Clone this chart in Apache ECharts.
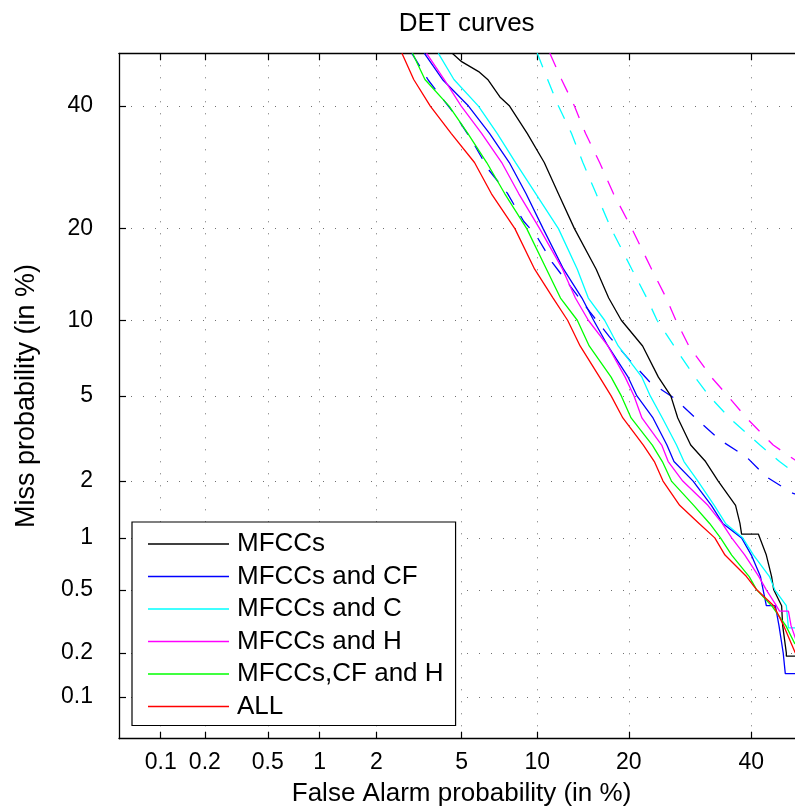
<!DOCTYPE html>
<html><head><meta charset="utf-8">
<script src="https://cdn.jsdelivr.net/npm/echarts@6/dist/echarts.min.js"></script>
<style>html,body{margin:0;padding:0;overflow:hidden;background:#fff}#c{width:806px;height:808px}</style>
</head><body><div id="c"></div>
<script>
// ---- axis ticks (percent) ----
const tickValues = [0.1, 0.2, 0.5, 1, 2, 5, 10, 20, 40];
const tickLabels = ['0.1', '0.2', '0.5', '1', '2', '5', '10', '20', '40'];
const axisMinPct = 0.05;
const axisMaxPct = 50;

// ---- legend names ----
const seriesNames = ['MFCCs', 'MFCCs and CF', 'MFCCs and C', 'MFCCs and H', 'MFCCs,CF and H', 'ALL'];

// ---- DET curves: [false alarm %, miss %] ----
const mfccs = [[4.55,50],[5.0,48.4],[5.9,46.5],[6.43,45],[7.2,41.7],[7.86,40],[9.19,35],[10.6,30],[11.9,25],[13.5,20],[15.9,15],[17.4,12],[19.0,10],[21.9,8],[24.2,6],[26.1,5],[27.2,4],[29.3,3],[31.8,2.5],[34.0,2],[37.1,1.5],[37.9,1.2],[38.2,1.05],[41.3,1.05],[42.8,0.8],[43.8,0.6],[44.2,0.5],[45.7,0.4],[45.9,0.3],[46.6,0.2],[46.6,0.19],[50,0.19]];
const mfccsCF = [[3.41,50],[4.12,45],[5.35,40],[6.55,35],[7.84,30],[9.09,25],[10.5,20],[12.4,15],[14.3,12],[15.6,10],[17.3,8],[19.9,6],[21.1,5],[23.4,4],[25.5,3],[26.6,2.5],[29.7,2],[32.8,1.5],[34.8,1.2],[38.2,1],[40.0,0.8],[41.7,0.6],[42.2,0.5],[42.8,0.4],[44.5,0.4],[45.2,0.3],[46.0,0.2],[46.4,0.145],[50,0.145]];
const mfccsC = [[3.95,50],[4.63,45],[5.89,40],[7.03,35],[8.29,30],[9.88,25],[11.9,20],[13.8,15],[15.0,12],[16.9,10],[18.6,8],[21.8,6],[23.0,5],[24.8,4],[27.0,3],[28.2,2.5],[30.5,2],[33.3,1.5],[35.3,1.2],[38.4,1],[40.4,0.8],[43.4,0.6],[44.4,0.5],[46.6,0.4],[47.0,0.29],[50,0.29]];
const mfccsH = [[3.49,50],[4.19,45],[4.98,40],[6.08,35],[7.32,30],[8.53,25],[10.2,20],[12.3,15],[13.6,12],[15.0,10],[17.3,8],[19.5,6],[20.7,5],[21.8,4],[24.7,3],[25.7,2.5],[28.0,2],[32.2,1.5],[34.7,1.2],[36.4,1],[38.8,0.8],[41.4,0.6],[42.8,0.5],[44.7,0.4],[45.3,0.37],[47.0,0.37],[47.5,0.3],[48.5,0.24],[50,0.22]];
const mfccsCFH = [[3.0,50],[3.43,45],[4.41,40],[5.32,35],[6.37,30],[7.53,25],[9.14,20],[10.8,15],[12.1,12],[13.8,10],[15.1,8],[17.7,6],[19.0,5],[20.3,4],[23.3,3],[24.8,2.5],[26.2,2],[29.8,1.5],[32.5,1.2],[34.4,1],[36.4,0.8],[39.6,0.6],[41.0,0.5],[43.8,0.4],[46.5,0.3],[48.2,0.23],[50,0.21]];
const allFeat = [[2.67,50],[3.04,45],[3.63,40],[4.51,35],[5.67,30],[6.66,25],[8.24,20],[9.78,15],[11.4,12],[12.8,10],[14.1,8],[16.3,6],[17.7,5],[19.2,4],[22.0,3],[23.6,2.5],[24.9,2],[27.5,1.5],[30.7,1.2],[33.4,1],[35.2,0.8],[39.1,0.6],[41.0,0.5],[44.2,0.4],[46.1,0.3],[48.3,0.2],[50,0.19]];
// dashed curves (not in legend)
const dashBlue = [[2.98,50],[3.55,44.9],[4.72,38.2],[5.56,33.6],[6.49,28.8],[7.70,25.1],[8.90,21.0],[9.93,19.05],[11.3,15.8],[15.2,10.7],[17.5,8.67],[20.1,7.04],[22.9,5.74],[26.7,4.88],[30.5,3.91],[34.3,3.17],[39.1,2.63],[42.8,2.10],[47.9,1.73],[49.5,1.68]];
const dashCyan = [[10.0,50],[10.9,45],[11.9,40],[13.2,35],[14.4,30],[15.9,25],[17.7,20],[20.4,15],[22.5,12],[24.0,10],[26.6,8],[30.0,6],[32.4,5],[36.0,4],[41.6,3],[45.3,2.5],[48.2,2.2],[49.5,2.15]];
const dashMagenta = [[11.1,50],[12.2,45],[13.5,40],[14.7,35],[16.3,30],[18.0,25],[20.4,20],[23.2,15],[25.4,12],[26.9,10],[29.0,8],[32.8,6],[35.7,5],[39.1,4],[44.1,3],[48.2,2.55],[49.5,2.5]];

// inverse normal CDF (DET axes are normal-deviate scaled)
function probit(p){
  const a=[-3.969683028665376e+01,2.209460984245205e+02,-2.759285104469687e+02,1.383577518672690e+02,-3.066479806614716e+01,2.506628277459239e+00];
  const b=[-5.447609879822406e+01,1.615858368580409e+02,-1.556989798598866e+02,6.680131188771972e+01,-1.328068155288572e+01];
  const c=[-7.784894002430293e-03,-3.223964580411365e-01,-2.400758277161838e+00,-2.549732539343734e+00,4.374664141464968e+00,2.938163982698783e+00];
  const d=[7.784695709041462e-03,3.224671290700398e-01,2.445134137142996e+00,3.754408661907416e+00];
  const pl=0.02425, ph=1-pl; let q, r;
  if(p<pl){q=Math.sqrt(-2*Math.log(p));return (((((c[0]*q+c[1])*q+c[2])*q+c[3])*q+c[4])*q+c[5])/((((d[0]*q+d[1])*q+d[2])*q+d[3])*q+1);}
  if(p<=ph){q=p-0.5;r=q*q;return (((((a[0]*r+a[1])*r+a[2])*r+a[3])*r+a[4])*r+a[5])*q/(((((b[0]*r+b[1])*r+b[2])*r+b[3])*r+b[4])*r+1);}
  q=Math.sqrt(-2*Math.log(1-p));return -(((((c[0]*q+c[1])*q+c[2])*q+c[3])*q+c[4])*q+c[5])/((((d[0]*q+d[1])*q+d[2])*q+d[3])*q+1);
}
const tr = arr => arr.map(([fa, miss]) => [probit(fa/100), probit(miss/100)]);
const tickPos = tickValues.map(v => probit(v/100));
const fmt = v => { for (let i=0;i<tickPos.length;i++) if (Math.abs(tickPos[i]-v)<1e-6) return tickLabels[i]; return ''; };
const aMin = probit(axisMinPct/100), aMax = probit(axisMaxPct/100);

const FONT = 'Liberation Sans';
const gridLine = { show: true, lineStyle: { color: '#707070', width: 1, type: [1, 11] } };

function axisBase(extra){
  return Object.assign({
    type: 'value', min: aMin, max: aMax,
    axisLine: { show: true, onZero: false, lineStyle: { color: '#000', width: 1.3 } },
    axisTick: { show: true, inside: true, length: 7, customValues: tickPos, lineStyle: { color: '#000', width: 1.2 } },
    axisLabel: { show: true, customValues: tickPos, formatter: fmt, color: '#000', fontFamily: FONT, fontSize: 23 },
    splitLine: gridLine
  }, extra);
}

const lineSeries = (name, data, color, dashed) => ({
  name, type: 'line', data: tr(data), showSymbol: false, symbol: 'none',
  lineStyle: { color, width: 1.3, type: dashed ? [15, 13] : 'solid' },
  itemStyle: { color }, animation: false, clip: true, silent: true, z: dashed ? 2 : 3
});

const chart = echarts.init(document.getElementById('c'), null, { renderer: 'canvas' });
chart.setOption({
  animation: false,
  backgroundColor: '#fff',
  title: { text: 'DET curves', left: 461.7, top: 6, textAlign: 'center',
    textStyle: { fontFamily: FONT, fontSize: 26, fontWeight: 'normal', color: '#000' } },
  grid: { left: 119, top: 53.3, width: 685.1, height: 685.4, containLabel: false, outerBoundsMode: 'none' },
  xAxis: [
    axisBase({ position: 'bottom', name: 'False Alarm probability (in %)', nameLocation: 'middle', nameGap: 42,
      nameTextStyle: { fontFamily: FONT, fontSize: 26, color: '#000' },
      axisLabel: { show: true, customValues: tickPos, formatter: fmt, color: '#000', fontFamily: FONT, fontSize: 23, margin: 12 } }),
    axisBase({ position: 'top', axisLabel: { show: false }, splitLine: { show: false } })
  ],
  yAxis: [
    axisBase({ position: 'left', name: 'Miss probability (in %)', nameLocation: 'middle', nameGap: 79,
      nameTextStyle: { fontFamily: FONT, fontSize: 27, color: '#000' },
      axisLabel: { show: true, customValues: tickPos, formatter: fmt, color: '#000', fontFamily: FONT, fontSize: 23, margin: 26 } })
  ],
  legend: {
    data: seriesNames, orient: 'vertical', left: 132, top: 522,
    icon: 'rect', itemWidth: 81, itemHeight: 1.5,
    padding: [8, 12, 5, 16], itemGap: 4.5,
    borderColor: '#000', borderWidth: 1.2, backgroundColor: '#fff',
    textStyle: { fontFamily: FONT, fontSize: 26, color: '#000', lineHeight: 28, padding: [0, 0, 0, 3] },
    selectedMode: false
  },
  series: [
    lineSeries('dashBlue', dashBlue, '#0000ff', true),
    lineSeries('dashCyan', dashCyan, '#00ffff', true),
    lineSeries('dashMagenta', dashMagenta, '#ff00ff', true),
    lineSeries(seriesNames[0], mfccs, '#000000', false),
    lineSeries(seriesNames[1], mfccsCF, '#0000ff', false),
    lineSeries(seriesNames[2], mfccsC, '#00ffff', false),
    lineSeries(seriesNames[3], mfccsH, '#ff00ff', false),
    lineSeries(seriesNames[4], mfccsCFH, '#00ff00', false),
    lineSeries(seriesNames[5], allFeat, '#ff0000', false)
  ]
});
</script>
</body></html>
